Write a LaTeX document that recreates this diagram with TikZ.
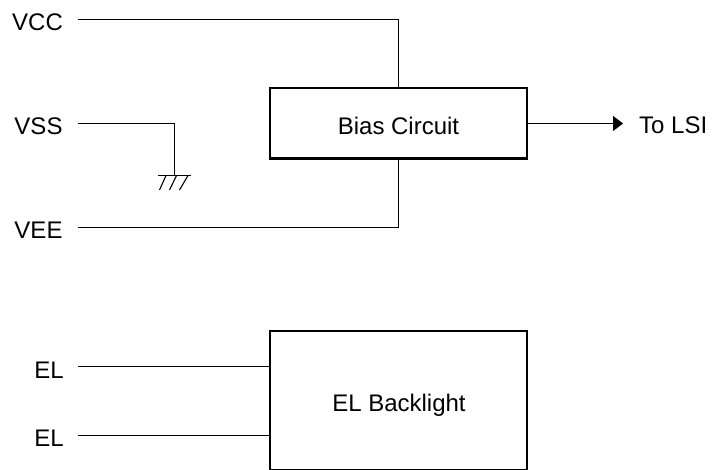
\documentclass[tikz,border=0pt]{standalone}
\usepackage{fontspec}
\setmainfont{Liberation Sans}
\usetikzlibrary{arrows.meta}
\tikzset{
  blockbox/.style={draw=black,line width=2.5pt,inner sep=0pt,minimum width=257pt},
  blocklabel/.style={inner sep=0pt,anchor=base,font=\fontsize{24}{26}\selectfont},
  pinlabel/.style={inner sep=0pt,anchor=base,font=\fontsize{24}{26}\selectfont},
  wire/.style={draw=black,line width=1.2pt},
  hatch/.style={draw=black,line width=1.1pt}
}
\begin{document}
\begin{tikzpicture}[x=1pt,y=-1pt]
\useasboundingbox (0,0) rectangle (712,470);
\node[blockbox,minimum height=70.5pt] (bias) at (398.5,123.25) {};
\node[blocklabel] (biaslabel) at (398.5,134.5) {Bias Circuit};
\node[blockbox,minimum height=139.6pt] (back) at (398.5,400.8) {};
\node[blocklabel] (backlabel) at (399,411.5) {EL Backlight};
\node[pinlabel] (vcc) at (37.5,31) {VCC};
\node[pinlabel] (vss) at (38.5,135) {VSS};
\node[pinlabel] (vee) at (38.5,239) {VEE};
\node[pinlabel] (el1) at (49,378) {EL};
\node[pinlabel] (el2) at (49,446.5) {EL};
\node[pinlabel,anchor=base west] (lsi) at (639,134) {To LSI};
\coordinate (vccs) at (78,19.5);
\coordinate (vsss) at (78,123.5);
\coordinate (vees) at (78,227.5);
\coordinate (el1s) at (78,366.5);
\coordinate (el2s) at (78,435.5);
\coordinate (gnd) at (174.5,175.5);
\coordinate (gl) at (158,175.5);
\coordinate (gr) at (191,175.5);
\coordinate (tip) at (623,123.5);
\coordinate (biastop) at (398.5,88);
\coordinate (biasbot) at (398.5,158.5);
\coordinate (backa) at (270,366.5);
\coordinate (backb) at (270,435.5);
\coordinate (biasout) at (527,123.5);
\draw[wire] (vccs) -| (biastop);
\draw[wire] (vees) -| (biasbot);
\draw[wire] (vsss) -| (gnd);
\draw[wire] (el1s) -- (backa);
\draw[wire] (el2s) -- (backb);
\draw[wire,-{Triangle[length=10pt,width=15pt]}] (biasout) -- (tip);
\draw[hatch] (gl) -- (gr);
\draw[hatch] (166,175.5) -- (159.5,190);
\draw[hatch] (176.5,175.5) -- (169.5,190);
\draw[hatch] (188,175.5) -- (179.5,190);
\end{tikzpicture}
\end{document}
